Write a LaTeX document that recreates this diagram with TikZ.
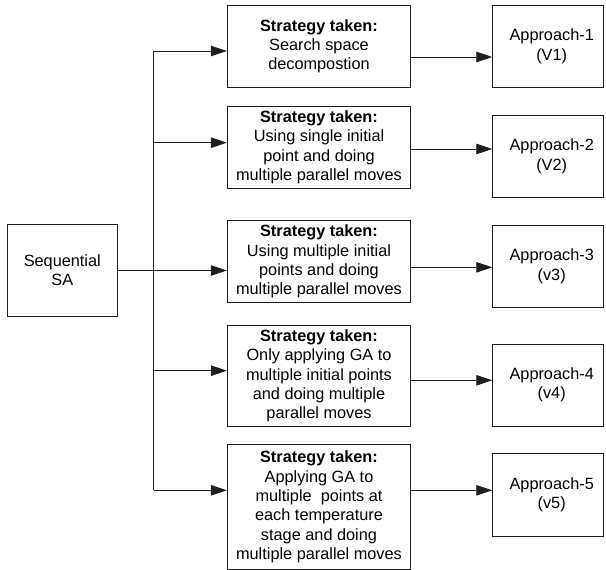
\documentclass[tikz,border=0pt]{standalone}
\usepackage{fontspec}
\setmainfont{Liberation Sans}
\usetikzlibrary{arrows.meta}
\definecolor{ln}{HTML}{1E1E1E}
\newcommand{\sh}{\hspace*{7.2pt}}
\tikzset{
  box/.style={draw=ln, line width=0.9pt, inner sep=0pt, align=center,
    font=\fontsize{16.3}{19.3}\selectfont},
  sbox/.style={box, minimum width=183.4pt},
  abox/.style={box, minimum width=110.8pt},
  arr/.style={draw=ln, line width=0.9pt, -{Triangle[length=16pt,width=10.5pt]}},
  trunk/.style={draw=ln, line width=0.9pt}
}
\begin{document}
\begin{tikzpicture}[x=1pt,y=-1pt]
\useasboundingbox (0,0) rectangle (606,570);
% start
\node[box, minimum width=110pt, minimum height=91.6pt] (sa) at (62.3,270.5) {Sequential\\SA};
% strategies
\node[sbox, minimum height=82pt] (s1) at (319,46.3) {\textbf{Strategy taken:}\\Search space\\decompostion};
\node[sbox, minimum height=82.3pt] (s2) at (319,147.2) {\textbf{Strategy taken:}\\Using single initial\\point and doing\\multiple parallel moves};
\node[sbox, minimum height=82.4pt] (s3) at (319,261.5) {\textbf{Strategy taken:}\\Using multiple initial\\points and doing\\multiple parallel moves};
\node[sbox, minimum height=100.3pt] (s4) at (319,375.9) {\textbf{Strategy taken:}\\Only applying GA to\\multiple initial points\\and doing multiple\\parallel moves};
\node[sbox, minimum height=124.6pt] (s5) at (319,507) {\textbf{Strategy taken:}\\Applying GA to\\multiple\ \ points at\\each temperature\\stage and doing\\multiple parallel moves};
% approaches
\node[abox, minimum height=82pt] (a1) at (548.1,46.3) {\sh Approach-1\\\sh (V1)};
\node[abox, minimum height=82pt] (a2) at (548.1,156.3) {\sh Approach-2\\\sh (V2)};
\node[abox, minimum height=82.3pt] (a3) at (548.1,266.2) {\sh Approach-3\\\sh (v3)};
\node[abox, minimum height=82pt] (a4) at (548.1,385) {\sh Approach-4\\\sh (v4)};
\node[abox, minimum height=82.3pt] (a5) at (548.1,494.9) {\sh Approach-5\\\sh (v5)};
% trunk
\coordinate (b1) at (153.7,51);
\coordinate (b2) at (153.7,142.7);
\coordinate (b4) at (153.7,370.7);
\coordinate (b5) at (153.7,490.3);
\draw[trunk] (b1) -- (b5);
\draw[arr] (b1) -- (b1 -| s1.west);
\draw[arr] (b2) -- (b2 -| s2.west);
\draw[arr] (sa.east) -- (sa.east -| s3.west);
\draw[arr] (b4) -- (b4 -| s4.west);
\draw[arr] (b5) -- (b5 -| s5.west);
% outputs
\path ([yshift=-10.7pt]s1.east) coordinate (o1);
\path ([yshift=-1.8pt]s2.east) coordinate (o2);
\path ([yshift=-5.8pt]s3.east) coordinate (o3);
\path ([yshift=-4.4pt]s4.east) coordinate (o4);
\path ([yshift=16.7pt]s5.east) coordinate (o5);
\draw[arr] (o1) -- (o1 -| a1.west);
\draw[arr] (o2) -- (o2 -| a2.west);
\draw[arr] (o3) -- (o3 -| a3.west);
\draw[arr] (o4) -- (o4 -| a4.west);
\draw[arr] (o5) -- (o5 -| a5.west);
\end{tikzpicture}
\end{document}
